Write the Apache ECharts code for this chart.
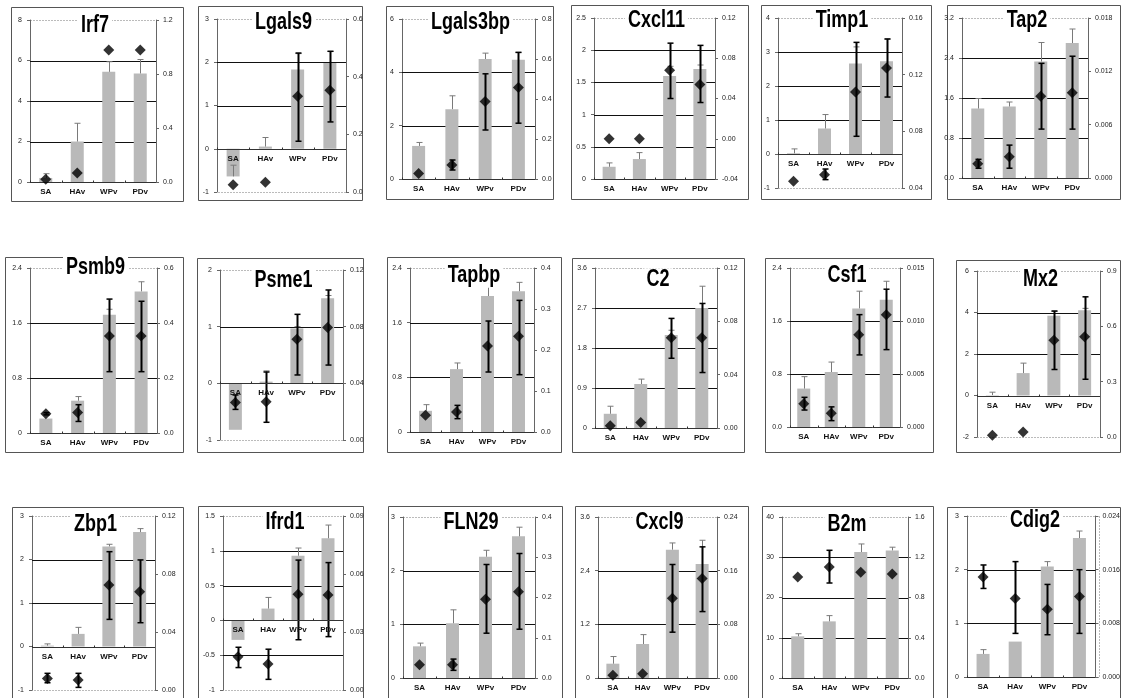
<!DOCTYPE html>
<html><head><meta charset="utf-8">
<script src="https://cdn.jsdelivr.net/npm/echarts@6/dist/echarts.min.js"></script>
<style>html,body{margin:0;padding:0;background:#fff}#c{width:1123px;height:698px}</style>
</head><body><div id="c"></div>
<script>
const categories = ['SA','HAv','WPv','PDv'];
const genes = ['Irf7','Lgals9','Lgals3bp','Cxcl11','Timp1','Tap2','Psmb9','Psme1','Tapbp','C2','Csf1','Mx2','Zbp1','Ifrd1','FLN29','Cxcl9','B2m','Cdig2'];
const leftTickLabels = [
 ['0','2','4','6','8'],
 ['-1','0','1','2','3'],
 ['0','2','4','6'],
 ['0','0.5','1','1.5','2','2.5'],
 ['-1','0','1','2','3','4'],
 ['0.0','0.8','1.6','2.4','3.2'],
 ['0','0.8','1.6','2.4'],
 ['-1','0','1','2'],
 ['0','0.8','1.6','2.4'],
 ['0','0.9','1.8','2.7','3.6'],
 ['0.0','0.8','1.6','2.4'],
 ['-2','0','2','4','6'],
 ['-1','0','1','2','3'],
 ['-1','-0.5','0','0.5','1','1.5'],
 ['0','1','2','3'],
 ['0','1.2','2.4','3.6'],
 ['0','10','20','30','40'],
 ['0','1','2','3']
];
const rightTickLabels = [
 ['0.0','0.4','0.8','1.2'],
 ['0.0','0.2','0.4','0.6'],
 ['0.0','0.2','0.4','0.6','0.8'],
 ['-0.04','0.00','0.04','0.08','0.12'],
 ['0.04','0.08','0.12','0.16'],
 ['0.000','0.006','0.012','0.018'],
 ['0.0','0.2','0.4','0.6'],
 ['0.00','0.04','0.08','0.12'],
 ['0.0','0.1','0.2','0.3','0.4'],
 ['0.00','0.04','0.08','0.12'],
 ['0.000','0.005','0.010','0.015'],
 ['0.0','0.3','0.6','0.9'],
 ['0.00','0.04','0.08','0.12'],
 ['0.00','0.03','0.06','0.09'],
 ['0.0','0.1','0.2','0.3','0.4'],
 ['0.00','0.08','0.16','0.24'],
 ['0.0','0.4','0.8','1.2','1.6'],
 ['0.000','0.008','0.016','0.024']
];
const barValues = [
 [0.2, 2.0, 5.44, 5.36],
 [-0.64, 0.05, 1.83, 1.98],
 [1.24, 2.62, 4.5, 4.47],
 [0.19, 0.31, 1.6, 1.71],
 [0.02, 0.75, 2.66, 2.73],
 [1.39, 1.43, 2.33, 2.7],
 [0.21, 0.47, 1.72, 2.06],
 [-0.82, 0.03, 0.97, 1.5],
 [0.31, 0.92, 1.99, 2.06],
 [0.32, 0.99, 2.09, 2.7],
 [0.58, 0.83, 1.79, 1.92],
 [0.02, 1.08, 3.84, 4.11],
 [0.02, 0.29, 2.3, 2.63],
 [-0.28, 0.17, 0.93, 1.18],
 [0.59, 1.02, 2.26, 2.64],
 [0.32, 0.76, 2.87, 2.55],
 [10.35, 14.07, 31.3, 31.7],
 [0.43, 0.66, 2.06, 2.59]
];
const barErrTop = [
 [0.41, 2.9, 5.94, 6.05],
 [-0.38, 0.26, 2.2, 2.25],
 [1.37, 3.12, 4.72, 4.75],
 [0.25, 0.41, 1.75, 1.77],
 [0.15, 1.16, 3.15, 3.38],
 [1.59, 1.52, 2.71, 2.98],
 [0.21, 0.53, 1.8, 2.2],
 [-0.82, 0.22, 1.0, 1.55],
 [0.40, 1.01, 2.2, 2.19],
 [0.49, 1.1, 2.2, 3.19],
 [0.76, 0.98, 2.05, 2.2],
 [0.16, 1.56, 4.06, 4.2],
 [0.06, 0.44, 2.35, 2.71],
 [-0.28, 0.33, 1.04, 1.37],
 [0.65, 1.27, 2.38, 2.81],
 [0.48, 0.97, 3.02, 3.08],
 [11.0, 15.5, 33.3, 32.5],
 [0.51, 0.66, 2.15, 2.72]
];
const dotValues = [
 [0.02, 0.067, 0.977, 0.977],
 [0.025, 0.034, 0.332, 0.353],
 [0.028, 0.07, 0.387, 0.457],
 [0.0, 0.0, 0.068, 0.054],
 [0.0447, 0.0494, 0.1078, 0.1247],
 [0.0016, 0.0024, 0.0092, 0.0096],
 [0.07, 0.075, 0.3525, 0.3525],
 [0.0264, 0.027, 0.0711, 0.0795],
 [0.0407, 0.0488, 0.2098, 0.2333],
 [0.0017, 0.0042, 0.0677, 0.0677],
 [0.0022, 0.0013, 0.0087, 0.0106],
 [0.009, 0.027, 0.525, 0.543],
 [0.008, 0.0069, 0.0724, 0.0678],
 [0.0172, 0.0134, 0.0495, 0.0491],
 [0.033, 0.033, 0.1955, 0.2144],
 [0.004, 0.0064, 0.1188, 0.1485],
 [1.004, 1.103, 1.05, 1.034],
 [0.0149, 0.0117, 0.0101, 0.012]
];
const dotErrHigh = [
 [0.02, 0.067, 0.977, 0.977],
 [0.025, 0.034, 0.482, 0.488],
 [0.028, 0.095, 0.526, 0.633],
 [0.0, 0.0, 0.095, 0.0928],
 [0.0447, 0.0534, 0.1428, 0.1452],
 [0.0021, 0.0037, 0.0129, 0.0137],
 [0.074, 0.103, 0.487, 0.479],
 [0.0318, 0.048, 0.0887, 0.1059],
 [0.0407, 0.065, 0.2707, 0.3211],
 [0.0017, 0.0042, 0.0822, 0.0934],
 [0.0028, 0.0019, 0.0106, 0.013],
 [0.009, 0.027, 0.683, 0.76],
 [0.0115, 0.0115, 0.0954, 0.0897],
 [0.0221, 0.0211, 0.0672, 0.0659],
 [0.033, 0.047, 0.282, 0.3093],
 [0.004, 0.0064, 0.1692, 0.1955],
 [1.004, 1.269, 1.05, 1.034],
 [0.0167, 0.0172, 0.0138, 0.016]
];
const dotErrLow = [
 [0.02, 0.067, 0.977, 0.977],
 [0.025, 0.034, 0.176, 0.243],
 [0.028, 0.045, 0.245, 0.279],
 [0.0, 0.0, 0.040, 0.036],
 [0.0447, 0.0459, 0.0765, 0.1042],
 [0.0011, 0.0011, 0.0055, 0.0055],
 [0.066, 0.042, 0.223, 0.223],
 [0.0216, 0.0125, 0.0459, 0.0529],
 [0.0407, 0.0325, 0.1463, 0.1398],
 [0.0017, 0.0042, 0.0523, 0.0416],
 [0.0016, 0.0006, 0.0068, 0.0073],
 [0.009, 0.027, 0.366, 0.313],
 [0.005, 0.0018, 0.0487, 0.0464],
 [0.0116, 0.0055, 0.026, 0.0276],
 [0.033, 0.019, 0.1113, 0.1212],
 [0.004, 0.0064, 0.0683, 0.099],
 [1.004, 0.944, 1.05, 1.034],
 [0.0132, 0.0065, 0.0063, 0.0065]
];

// layout: plot left, top, right, bottom, box left, top, right, bottom, title baseline
const layout = [
 [30,20,156,182, 11,7,183,201, 33],
 [217,19,346,192, 198,6,362,200, 30],
 [402,19,535,179, 386,6,553,199, 30],
 [594,18,715,179, 571,5,748,199, 28],
 [778,18,902,188, 761,5,931,199, 28],
 [962,18,1088,178, 947,5,1120,199, 28],
 [30,268,157,433, 5,257,183,452, 275],
 [220,270,343,440, 197,258,363,452, 288],
 [410,268,534,432, 387,257,561,452, 283],
 [595,268,717,428, 572,258,744,452, 287],
 [790,268,900,427, 765,258,933,452, 283],
 [977,271,1100,437, 956,260,1120,452, 287],
 [32,516,155,690, 12,507,183,705, 532],
 [223,516,343,690, 198,506,363,705, 530],
 [403,517,535,678, 388,506,562,705, 530],
 [598,517,717,678, 575,506,748,705, 530],
 [782,517,908,678, 762,506,933,705, 532],
 [967,516,1099,677, 947,507,1120,705, 528]
];

const FONT = '"Liberation Sans", Arial, sans-serif';
function labelFor(labels, v) {
  const nums = labels.map(Number);
  const span = Math.abs(nums[nums.length-1] - nums[0]);
  for (let k = 0; k < nums.length; k++) if (Math.abs(nums[k] - v) < span * 1e-4) return labels[k];
  return '';
}
function axisRange(labels) {
  const nums = labels.map(Number);
  const min = nums[0], max = nums[nums.length-1];
  return {min, max, interval: +((max-min)/(nums.length-1)).toPrecision(6)};
}

const grid = [], xAxis = [], yAxis = [], series = [], graphic = [];
genes.forEach((g, i) => {
  const L = layout[i];
  grid.push({left: L[0], top: L[1], width: L[2]-L[0], height: L[3]-L[1]});
  xAxis.push({
    type: 'category', gridIndex: i, data: categories,
    axisLine: {show: false}, axisTick: {show: false}, axisLabel: {show: false}, splitLine: {show: false}
  });
  const lr = axisRange(leftTickLabels[i]);
  yAxis.push({
    type: 'value', gridIndex: i, position: 'left', min: lr.min, max: lr.max, interval: lr.interval,
    axisLine: {show: true, lineStyle: {color: '#666', width: 1}},
    axisTick: {show: true, length: 3, lineStyle: {color: '#666'}},
    splitLine: {show: false},
    axisLabel: {fontSize: 7, color: '#222', margin: 8, fontFamily: FONT, formatter: v => labelFor(leftTickLabels[i], v)}
  });
  const rr = axisRange(rightTickLabels[i]);
  yAxis.push({
    type: 'value', gridIndex: i, position: 'right', min: rr.min, max: rr.max, interval: rr.interval,
    axisLine: {show: true, lineStyle: {color: '#666', width: 1}},
    axisTick: {show: true, length: 3, lineStyle: {color: '#666'}},
    splitLine: {show: false},
    axisLabel: {fontSize: 7, color: '#222', margin: 7, fontFamily: FONT, formatter: v => labelFor(rightTickLabels[i], v)}
  });
  // horizontal gridlines at interior left ticks
  const ticks = leftTickLabels[i].map(Number).slice(1, -1);
  series.push({
    type: 'custom', xAxisIndex: i, yAxisIndex: 2*i, silent: true, z: 1,
    data: ticks.map(v => [0, v]), encode: {x: 0, y: 1},
    renderItem: (params, api) => {
      const y = Math.round(api.coord([0, api.value(1)])[1]) + 0.5;
      const cs = params.coordSys;
      return {type: 'line', shape: {x1: cs.x, y1: y, x2: cs.x + cs.width, y2: y}, style: {stroke: '#111', lineWidth: 1}};
    }
  });
  series.push({
    type: 'bar', xAxisIndex: i, yAxisIndex: 2*i, data: barValues[i], barWidth: 13, z: 2,
    itemStyle: {color: '#b9b9b9'}, silent: true
  });
  series.push({
    type: 'custom', xAxisIndex: i, yAxisIndex: 2*i, silent: true, z: 3,
    data: categories.map((c, j) => [j, barValues[i][j], barErrTop[i][j]]), encode: {x: 0, y: [1, 2]},
    renderItem: (params, api) => {
      const j = api.value(0);
      const p0 = api.coord([j, api.value(1)]);
      const p1 = api.coord([j, api.value(2)]);
      if (Math.abs(p0[1] - p1[1]) < 1) return;
      const x = Math.round(p0[0]) + 0.5;
      return {type: 'group', children: [
        {type: 'line', shape: {x1: x, y1: p0[1], x2: x, y2: p1[1]}, style: {stroke: '#7a7a7a', lineWidth: 1}},
        {type: 'line', shape: {x1: x - 3, y1: p1[1], x2: x + 3, y2: p1[1]}, style: {stroke: '#7a7a7a', lineWidth: 1}}
      ]};
    }
  });
  // category axis drawn on the zero line: line, boundary ticks, labels
  series.push({
    type: 'custom', xAxisIndex: i, yAxisIndex: 2*i, silent: true, z: 6,
    data: categories.map((c, j) => [j, 0]), encode: {x: 0, y: 1},
    renderItem: (params, api) => {
      const j = api.value(0);
      const p = api.coord([j, 0]);
      const w = api.size([1, 0])[0];
      const y = Math.round(p[1]) + 0.5;
      const xl = Math.round(p[0] - w / 2) + 0.5;
      return {type: 'group', children: [
        {type: 'line', shape: {x1: p[0] - w / 2, y1: y, x2: p[0] + w / 2, y2: y}, style: {stroke: '#333', lineWidth: 1}},
        {type: 'line', shape: {x1: xl, y1: y, x2: xl, y2: y - 2}, style: {stroke: '#333', lineWidth: 1}},
        {type: 'text', x: p[0], y: y + 5, style: {text: categories[j], font: 'bold 8px ' + FONT, fill: '#111', align: 'center', verticalAlign: 'top'}}
      ]};
    }
  });
  series.push({
    type: 'custom', xAxisIndex: i, yAxisIndex: 2*i+1, silent: true, z: 4,
    data: categories.map((c, j) => [j, dotErrLow[i][j], dotErrHigh[i][j]]), encode: {x: 0, y: [1, 2]},
    renderItem: (params, api) => {
      const j = api.value(0);
      const p0 = api.coord([j, api.value(1)]);
      const p1 = api.coord([j, api.value(2)]);
      if (Math.abs(p0[1] - p1[1]) < 1) return;
      const x = Math.round(p0[0]) + 0.5;
      return {type: 'group', children: [
        {type: 'line', shape: {x1: x, y1: p0[1], x2: x, y2: p1[1]}, style: {stroke: '#000', lineWidth: 2}},
        {type: 'line', shape: {x1: x - 3, y1: p1[1], x2: x + 3, y2: p1[1]}, style: {stroke: '#000', lineWidth: 1.5}},
        {type: 'line', shape: {x1: x - 3, y1: p0[1], x2: x + 3, y2: p0[1]}, style: {stroke: '#000', lineWidth: 1.5}}
      ]};
    }
  });
  series.push({
    type: 'scatter', xAxisIndex: i, yAxisIndex: 2*i+1, data: dotValues[i], z: 7, silent: true,
    symbol: 'diamond', symbolSize: [11, 11], itemStyle: {color: '#000'}
  });
  // panel frame
  graphic.push({type: 'rect', silent: true, z: 0,
    shape: {x: L[4] + 0.5, y: L[5] + 0.5, width: L[6] - L[4], height: L[7] - L[5]},
    style: {fill: null, stroke: '#555', lineWidth: 1}});
  // plot border (dotted)
  graphic.push({type: 'rect', silent: true, z: 0,
    shape: {x: L[0] + 0.5, y: L[1] + 0.5, width: L[2] - L[0], height: L[3] - L[1]},
    style: {fill: null, stroke: '#777', lineWidth: 1, lineDash: [1, 2]}});
  // title
  graphic.push({type: 'text', silent: true, z: 100,
    x: (L[0] + L[2]) / 2 + 2, y: L[8] - 7, scaleY: 1.3,
    style: {text: g, font: 'bold 18px ' + FONT, fill: '#000', align: 'center', verticalAlign: 'middle',
      backgroundColor: '#fff', padding: [0, 3]}});
});

const chart = echarts.init(document.getElementById('c'), null, {renderer: 'canvas'});
chart.setOption({animation: false, backgroundColor: '#fff', grid, xAxis, yAxis, series, graphic});
</script>
</body></html>
